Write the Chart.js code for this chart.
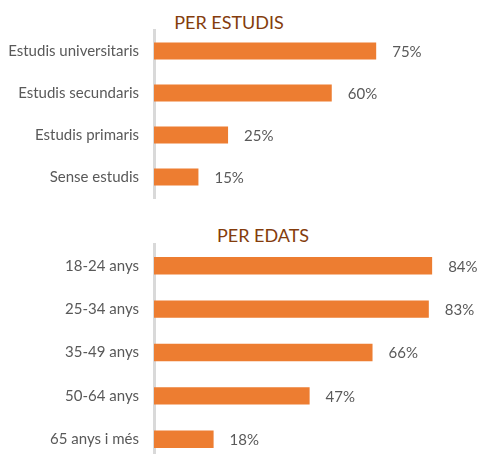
<!DOCTYPE html>
<html>
<head>
<meta charset="utf-8">
<script src="https://cdn.jsdelivr.net/npm/chart.js@4"></script>
<style>
    html, body { margin: 0; padding: 0; overflow: hidden; background: #fff; }
    #page { position: relative; width: 477px; height: 454px; overflow: hidden; }
    .title {
        position: absolute; width: 200px; text-align: center;
        font-family: Lato, sans-serif; font-size: 18px; color: #843C0C;
        line-height: 19px;
    }
    .box { position: absolute; left: 0; width: 477px; }
</style>
</head>
<body>
<div id="page">
    <div class="title" style="left:129px; top:13px;">PER ESTUDIS</div>
    <div class="title" style="left:163px; top:226px;">PER EDATS</div>
    <!-- the y scale adds ~24px of label padding above and below the plot -->
    <div class="box" style="top:6px; height:216px;"><canvas id="studiesChart"></canvas></div>
    <div class="box" style="top:220px; height:265px;"><canvas id="agesChart"></canvas></div>
</div>
<script>
// Dades
const studyLabels = ['Estudis universitaris', 'Estudis secundaris', 'Estudis primaris', 'Sense estudis'];
const studyValues = [75, 60, 25, 15];
const ageLabels = ['18-24 anys', '25-34 anys', '35-49 anys', '50-64 anys', '65 anys i més'];
const ageValues = [84, 83, 66, 47, 18];

const BAR_COLOR = '#ED7D31';
const TEXT_COLOR = '#595959';
const FONT = 'Lato, sans-serif';

// Etiquetes de valor a la dreta de cada barra
const valueLabels = {
    id: 'valueLabels',
    afterDatasetsDraw(chart) {
        const ctx = chart.ctx;
        const meta = chart.getDatasetMeta(0);
        const data = chart.data.datasets[0].data;
        ctx.save();
        ctx.font = `15px ${FONT}`;
        ctx.fillStyle = TEXT_COLOR;
        ctx.textAlign = 'left';
        ctx.textBaseline = 'middle';
        meta.data.forEach((bar, i) => {
            ctx.fillText(`${data[i]}%`, bar.x + 16, bar.y + 1);
        });
        ctx.restore();
    }
};

function makeChart(id, labels, values, xMax, padRight) {
    const ctx = document.getElementById(id).getContext('2d');
    return new Chart(ctx, {
        type: 'bar',
        data: {
            labels: labels,
            datasets: [{
                data: values,
                backgroundColor: BAR_COLOR,
                borderWidth: 0,
                barPercentage: 0.4,
                categoryPercentage: 1
            }]
        },
        options: {
            indexAxis: 'y',
            responsive: true,
            maintainAspectRatio: false,
            animation: false,
            layout: { padding: { left: 0, right: padRight, top: 0, bottom: 0 } },
            plugins: {
                legend: { display: false },
                tooltip: { enabled: false }
            },
            scales: {
                x: { display: false, min: 0, max: xMax },
                y: {
                    afterFit: (s) => { s.width = 154; },
                    grid: { display: false, drawTicks: false },
                    border: { display: true, color: '#D9D9D9', width: 3 },
                    ticks: {
                        padding: 15,
                        color: TEXT_COLOR,
                        font: { family: FONT, size: 15 }
                    }
                }
            }
        },
        plugins: [valueLabels]
    });
}

makeChart('studiesChart', studyLabels, studyValues, 80, 86);
makeChart('agesChart', ageLabels, ageValues, 90, 25);
</script>
</body>
</html>
